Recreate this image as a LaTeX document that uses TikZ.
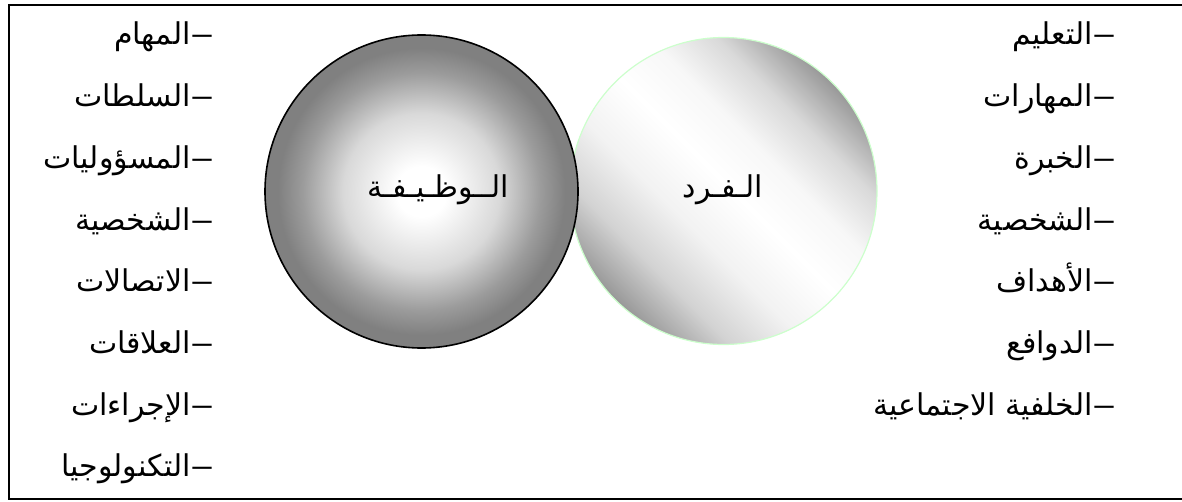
\documentclass[tikz,border=0pt]{standalone}
\usepackage{fontspec}
\newfontfamily\arabicfont[Script=Arabic]{DejaVu Sans}
\TeXXeTstate=1
\pgfdeclareradialshading{jobshade}{\pgfpoint{0bp}{0bp}}{color(0bp)=(white); color(4bp)=(white); color(12.5bp)=(gray!30); color(19bp)=(gray!78); color(23bp)=(gray); color(50bp)=(gray)}
\pgfdeclarehorizontalshading{personshade}{100bp}{color(0bp)=(gray!80); color(25bp)=(gray!80); color(33bp)=(gray!35); color(42bp)=(gray!10); color(51bp)=(white); color(59bp)=(gray!6); color(67bp)=(gray!30); color(75bp)=(gray!80); color(100bp)=(gray!80)}
\newcommand{\itemdash}{\scalebox{1.6}[1]{–}}

\begin{document}
\begin{tikzpicture}[
  x=0.5pt,y=-0.5pt,
  item/.style={anchor=base east,inner sep=0pt,font=\arabicfont\fontsize{15}{18}\selectfont},
  title/.style={inner sep=0pt,font=\arabicfont\fontsize{15}{18}\selectfont},
  jobdisc/.style={circle,draw=black,line width=0.8pt,minimum size=156.5pt,inner sep=0pt,shading=jobshade},
  persondisc/.style={circle,draw=green!20,line width=0.6pt,minimum size=153.5pt,inner sep=0pt,shading=personshade,shading angle=45}
]
\useasboundingbox (0,0) rectangle (1182,502);
\draw[line width=0.9pt] (1200,5) -- (9,5) -- (9,499) -- (1200,499);
\node[persondisc] (person) at (723.5,191) {};
\node[jobdisc] (job) at (421.5,191.5) {};
\node[title] (jobname) at (438,190) {الــوظـيـفـة};
\node[title] (personname) at (723,190) {الـفـرد};
\foreach \txt [count=\i from 0] in {المهام,السلطات,المسؤوليات,الشخصية,الاتصالات,العلاقات,الإجراءات,التكنولوجيا}
  \node[item] (duty\i) at (215,{45+61.7*\i}) {\beginR\txt\endR\itemdash};
\foreach \txt [count=\i from 0] in {التعليم,المهارات,الخبرة,الشخصية,الأهداف,الدوافع,الخلفية الاجتماعية}
  \node[item] (trait\i) at (1117,{45+61.7*\i}) {\beginR\txt\endR\itemdash};
\end{tikzpicture}
\end{document}
